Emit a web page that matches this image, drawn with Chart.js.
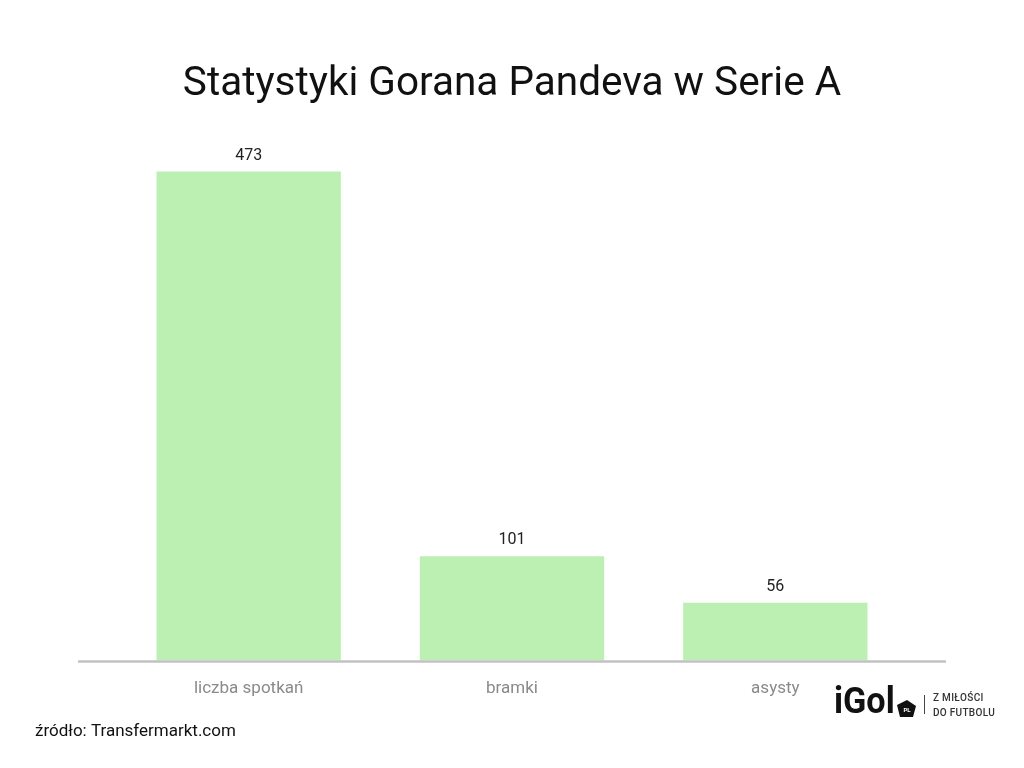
<!DOCTYPE html>
<html><head><meta charset="utf-8">
<script src="https://cdn.jsdelivr.net/npm/chart.js@4.4.1/dist/chart.umd.min.js"></script>
<style>html,body{margin:0;padding:0;background:#fff}#wrap{width:1024px;height:768px}</style>
</head><body><div id="wrap"><canvas id="c" width="1024" height="768"></canvas></div>
<script>
const categories = ['liczba spotkań', 'bramki', 'asysty'];
const values = [473, 101, 56];
const titleText = 'Statystyki Gorana Pandeva w Serie A';
const sourceText = 'źródło: Transfermarkt.com';

const extras = {
  id: 'extras',
  afterDatasetsDraw(chart) {
    const ctx = chart.ctx, a = chart.chartArea;
    const meta = chart.getDatasetMeta(0);
    ctx.save();
    // value labels
    ctx.font = '16px Roboto';
    ctx.fillStyle = '#222';
    ctx.textAlign = 'center';
    ctx.textBaseline = 'bottom';
    meta.data.forEach((bar, i) => {
      ctx.fillText(String(values[i]), bar.x, bar.y - 8);
    });
    // axis line
    ctx.strokeStyle = '#c2c2c2';
    ctx.lineWidth = 2.5;
    ctx.beginPath();
    ctx.moveTo(78, a.bottom + 1);
    ctx.lineTo(946, a.bottom + 1);
    ctx.stroke();
    // source
    ctx.font = '17px Roboto';
    ctx.fillStyle = '#111';
    ctx.textAlign = 'left';
    ctx.textBaseline = 'middle';
    ctx.fillText(sourceText, 35, 732);
    // logo
    ctx.font = 'bold 36px Roboto';
    ctx.fillStyle = '#111';
    ctx.textBaseline = 'alphabetic';
    ctx.save();
    ctx.translate(834, 713);
    ctx.scale(0.95, 1);
    ctx.fillText('iGol', 0, 0);
    ctx.restore();
    // badge
    ctx.beginPath();
    const bx = 906, by = 709;
    ctx.moveTo(bx - 9, by - 4);
    ctx.lineTo(bx + 1, by - 9);
    ctx.lineTo(bx + 10, by - 3);
    ctx.lineTo(bx + 7, by + 8);
    ctx.lineTo(bx - 6, by + 8);
    ctx.closePath();
    ctx.fill();
    ctx.fillStyle = '#fff';
    ctx.font = 'bold 6px Roboto';
    ctx.textAlign = 'center';
    ctx.textBaseline = 'middle';
    ctx.fillText('PL', bx + 1, by + 1);
    ctx.strokeStyle = '#444';
    ctx.lineWidth = 1;
    ctx.beginPath();
    ctx.moveTo(924.5, 695);
    ctx.lineTo(924.5, 714);
    ctx.stroke();
    ctx.fillStyle = '#333';
    ctx.font = '500 10px Roboto';
    ctx.textAlign = 'left';
    ctx.textBaseline = 'alphabetic';
    ctx.letterSpacing = '0.3px';
    ctx.fillText('Z MIŁOŚCI', 933, 701);
    ctx.fillText('DO FUTBOLU', 933, 716);
    ctx.letterSpacing = '0px';
    ctx.restore();
  }
};

new Chart(document.getElementById('c'), {
  type: 'bar',
  data: {
    labels: categories,
    datasets: [{
      data: values,
      backgroundColor: '#bcefb2',
      borderWidth: 0,
      barPercentage: 0.7,
      categoryPercentage: 1.0
    }]
  },
  options: {
    responsive: false,
    animation: false,
    devicePixelRatio: 1,
    layout: { padding: { left: 117, right: 117, top: 0, bottom: 51 } },
    plugins: {
      legend: { display: false },
      tooltip: { enabled: false },
      title: {
        display: true,
        text: titleText,
        color: '#111',
        font: { family: 'Roboto', size: 40.5, weight: 'normal' },
        padding: { top: 61, bottom: 34 }
      }
    },
    scales: {
      x: {
        grid: { display: false, drawTicks: false },
        border: { display: false },
        ticks: {
          color: '#8a8a8a',
          padding: 18,
          font: { family: 'Roboto', size: 17 }
        }
      },
      y: {
        display: false,
        min: 0,
        max: 500
      }
    }
  },
  plugins: [extras]
});
</script></body></html>
